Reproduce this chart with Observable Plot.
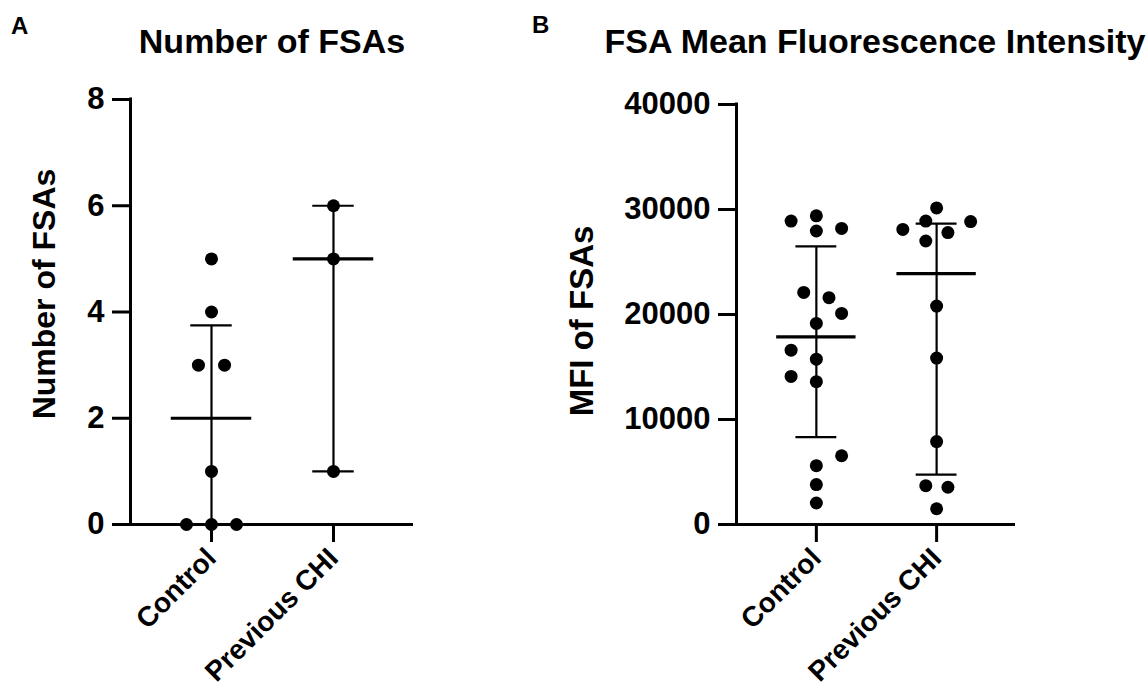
<!DOCTYPE html>
<html><head><meta charset="utf-8">
<script src="https://cdn.jsdelivr.net/npm/d3@7"></script>
<script src="https://cdn.jsdelivr.net/npm/@observablehq/plot@0.6"></script>
<style>
body{margin:0;background:#fff;}
#wrap{position:relative;width:1147px;height:694px;overflow:hidden;font-family:"Liberation Sans",Arial,sans-serif;color:#000;}
#wrap > svg{position:absolute;top:0;}
</style></head><body><div id="wrap"></div>
<script>
// ---- categories ----
const groups = ["Control", "Previous CHI"];

// ---- Panel A: Number of FSAs ----
const fsaTitle = "Number of FSAs";
const fsaYLabel = "Number of FSAs";
const fsaTicks = [0, 2, 4, 6, 8];
const fsaControl = [0, 0, 0, 1, 3, 3, 4, 5];
const fsaControlJitter = [-0.205, 0, 0.205, 0, -0.107, 0.107, 0, 0];
const fsaChi = [1, 5, 6];
const fsaChiJitter = [0, 0, 0];

// ---- Panel B: FSA Mean Fluorescence Intensity ----
const mfiTitle = "FSA Mean Fluorescence Intensity";
const mfiYLabel = "MFI of FSAs";
const mfiTicks = [0, 10000, 20000, 30000, 40000];
const mfiControl = [28900, 29400, 27950, 28200, 22100, 21600, 20100, 19150, 16600, 15750, 14100, 13600, 6550, 5600, 3800, 2050];
const mfiControlJitter = [-0.21, 0, 0, 0.21, -0.105, 0.105, 0.21, 0, -0.21, 0, -0.21, 0, 0.21, 0, 0, 0];
const mfiChi = [30150, 28900, 28850, 28100, 27800, 27000, 20800, 15850, 7900, 3700, 3550, 1500];
const mfiChiJitter = [0, -0.09, 0.283, -0.281, 0.094, -0.09, 0, 0, 0, -0.09, 0.094, 0];

// Prism-style quantile ((n+1)p)
function quant(sorted, p) {
  const n = sorted.length, h = (n + 1) * p, lo = Math.floor(h);
  if (lo < 1) return sorted[0];
  if (lo >= n) return sorted[n - 1];
  return sorted[lo - 1] + (h - lo) * (sorted[lo] - sorted[lo - 1]);
}

const xDomain = [-0.664, 1.656];
const font = '"Liberation Sans", Arial, sans-serif';

function panel({series, jitters, ticks, yMax, width, marginLeft, marginRight, marginTop, left}) {
  const points = series.flatMap((vals, i) => vals.map((v, j) => ({x: i + jitters[i][j], y: v})));
  const stats = series.map((vals, i) => {
    const s = vals.slice().sort((a, b) => a - b);
    return {i, median: quant(s, 0.5), q1: quant(s, 0.25), q3: quant(s, 0.75)};
  });
  const svg = Plot.plot({
    width, height: 694,
    marginLeft, marginRight, marginTop, marginBottom: 170,
    style: {fontFamily: font, fontWeight: "bold", color: "#000", background: "transparent", overflow: "visible"},
    x: {domain: xDomain},
    y: {domain: [0, yMax]},
    marks: [
      Plot.ruleX(stats, {x: "i", y1: "q1", y2: "q3", strokeWidth: 2.2, stroke: "#000"}),
      Plot.ruleY(stats, {y: "q3", x1: d => d.i - 0.17, x2: d => d.i + 0.17, strokeWidth: 2.2, stroke: "#000"}),
      Plot.ruleY(stats, {y: "q1", x1: d => d.i - 0.17, x2: d => d.i + 0.17, strokeWidth: 2.2, stroke: "#000"}),
      Plot.ruleY(stats, {y: "median", x1: d => d.i - 0.33, x2: d => d.i + 0.33, strokeWidth: 3.2, stroke: "#000"}),
      Plot.ruleX([xDomain[0]], {strokeWidth: 3, stroke: "#000", strokeLinecap: "square"}),
      Plot.ruleY([0], {strokeWidth: 3, stroke: "#000"}),
      Plot.axisY({ticks, tickSize: 18, tickPadding: 8, strokeWidth: 3, fontSize: 31, fontWeight: "bold", label: null, tickFormat: d => String(d)}),
      Plot.axisX({ticks: [0, 1], tickFormat: i => groups[i], tickSize: 18, tickPadding: 11, tickRotate: -45, strokeWidth: 3, fontSize: 28, fontWeight: "bold", label: null}),
      Plot.dot(points, {x: "x", y: "y", r: 6.5, fill: "#000", stroke: "none"})
    ]
  });
  svg.style.left = left + "px";
  return svg;
}

const wrap = document.getElementById("wrap");
wrap.appendChild(panel({series: [fsaControl, fsaChi], jitters: [fsaControlJitter, fsaChiJitter], ticks: fsaTicks, yMax: 8,
  width: 560, marginLeft: 130, marginRight: 147, marginTop: 99, left: 0}));
wrap.appendChild(panel({series: [mfiControl, mfiChi], jitters: [mfiControlJitter, mfiChiJitter], ticks: mfiTicks, yMax: 40000,
  width: 587, marginLeft: 176, marginRight: 132, marginTop: 104, left: 560}));

// overlay texts
const ov = d3.select(wrap).append("svg")
  .attr("width", 1147).attr("height", 694)
  .style("position", "absolute").style("left", "0px").style("top", "0px")
  .style("pointer-events", "none")
  .attr("font-family", font).attr("font-weight", "bold").attr("fill", "#000");
ov.append("text").attr("x", 11).attr("y", 34).attr("font-size", 24).text("A");
ov.append("text").attr("x", 272).attr("y", 53).attr("font-size", 34).attr("text-anchor", "middle").text(fsaTitle);
ov.append("text").attr("x", 532).attr("y", 33).attr("font-size", 24).text("B");
ov.append("text").attr("x", 875).attr("y", 53).attr("font-size", 34).attr("text-anchor", "middle").text(mfiTitle);
ov.append("text").attr("transform", "translate(55,294) rotate(-90)").attr("font-size", 32).attr("text-anchor", "middle").text(fsaYLabel);
ov.append("text").attr("transform", "translate(593,321) rotate(-90)").attr("font-size", 33).attr("text-anchor", "middle").text(mfiYLabel);
</script>
</body></html>
